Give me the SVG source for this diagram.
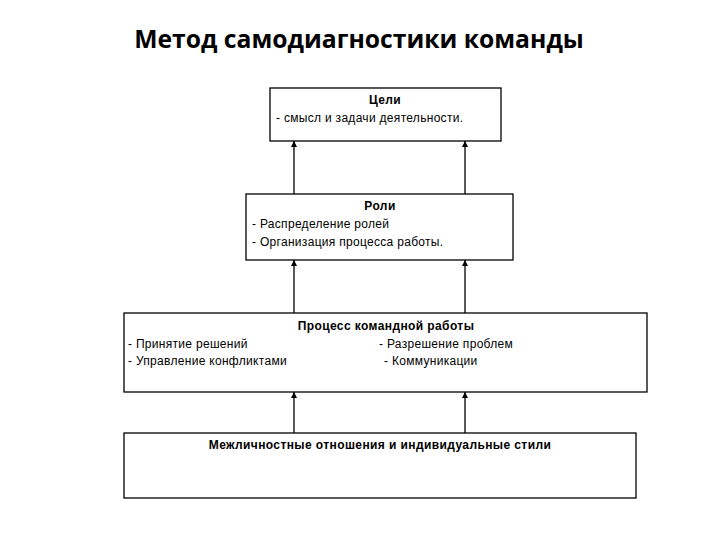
<svg xmlns="http://www.w3.org/2000/svg" width="720" height="540" viewBox="0 0 720 540">
<style>
.box{fill:#fff;stroke:#000;stroke-width:1.3}
.t{font-family:"Liberation Sans",Arial,sans-serif;font-size:12px;fill:#000;letter-spacing:0.3px}
.b{font-weight:bold;letter-spacing:0.4px}
.title{font-family:"Open Sans","Liberation Sans",sans-serif;font-size:24.7px;font-weight:bold;fill:#000}
.c{stroke:#000;stroke-width:1.3;fill:none}
</style>
<defs>
<marker id="ah" viewBox="0 0 10 10" refX="10" refY="5" markerWidth="6" markerHeight="6" orient="auto" markerUnits="userSpaceOnUse">
<path d="M0,0 L10,5 L0,10 z" fill="#000"/>
</marker>
</defs>
<rect width="720" height="540" fill="#fff"/>
<text class="title" x="359" y="48" text-anchor="middle">Метод самодиагностики команды</text>
<g id="connectors">
<line class="c" x1="294" y1="194" x2="294" y2="141" marker-end="url(#ah)"/>
<line class="c" x1="465" y1="194" x2="465" y2="141" marker-end="url(#ah)"/>
<line class="c" x1="294" y1="313" x2="294" y2="260" marker-end="url(#ah)"/>
<line class="c" x1="465" y1="313" x2="465" y2="260" marker-end="url(#ah)"/>
<line class="c" x1="294" y1="433" x2="294" y2="392" marker-end="url(#ah)"/>
<line class="c" x1="465" y1="433" x2="465" y2="392" marker-end="url(#ah)"/>
</g>
<g id="goals">
<rect class="box" x="270" y="88" width="231" height="53"/>
<text class="t b" x="385" y="104" text-anchor="middle">Цели</text>
<text class="t" x="276" y="122">- смысл и задачи деятельности.</text>
</g>
<g id="roles">
<rect class="box" x="246" y="194" width="267" height="66"/>
<text class="t b" x="380" y="210" text-anchor="middle">Роли</text>
<text class="t" x="252" y="228">- Распределение ролей</text>
<text class="t" x="252" y="246">- Организация процесса работы.</text>
</g>
<g id="process">
<rect class="box" x="124" y="313" width="523" height="79"/>
<text class="t b" x="386" y="330" text-anchor="middle">Процесс командной работы</text>
<text class="t" x="128" y="348">- Принятие решений</text>
<text class="t" x="379" y="348">- Разрешение проблем</text>
<text class="t" x="128" y="365">- Управление конфликтами</text>
<text class="t" x="384" y="365">- Коммуникации</text>
</g>
<g id="interpersonal">
<rect class="box" x="124" y="433" width="512" height="65"/>
<text class="t b" x="380" y="449" text-anchor="middle">Межличностные отношения и индивидуальные стили</text>
</g>
</svg>
